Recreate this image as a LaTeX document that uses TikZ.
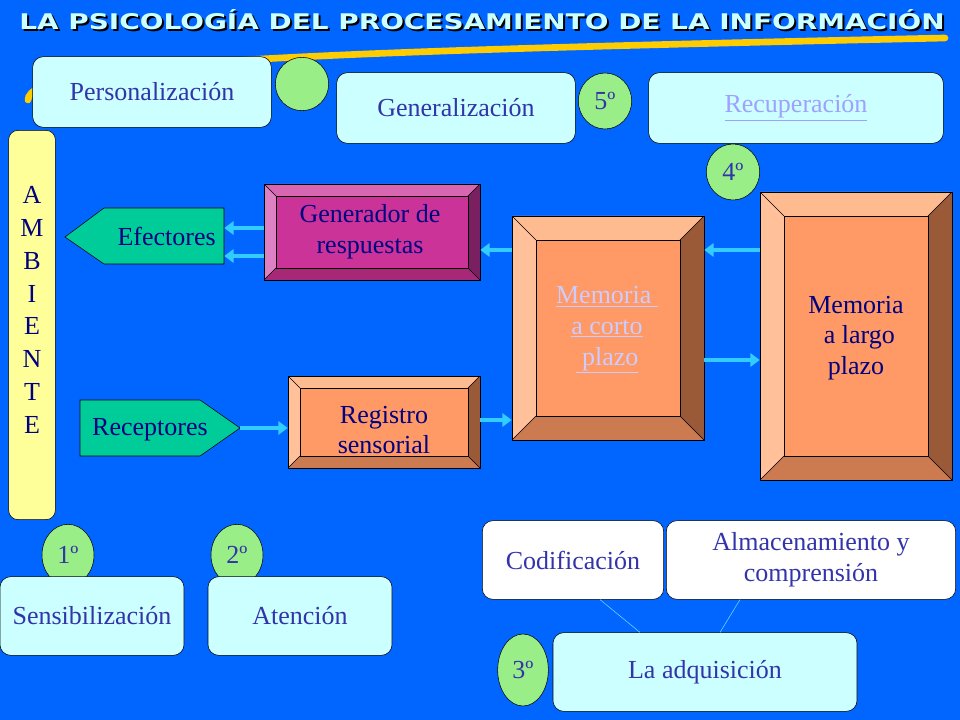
\documentclass[tikz,border=0pt]{standalone}
\usepackage{fontspec}
\setmainfont{Liberation Serif}
\newfontfamily\titlefont{DejaVu Sans}
\usetikzlibrary{arrows.meta,calc,shapes.geometric}
\definecolor{bg}{HTML}{0066FF}
\definecolor{lbox}{HTML}{CCFFFF}
\definecolor{ltxt}{HTML}{3333AA}
\definecolor{dtxt}{HTML}{000080}
\definecolor{grn}{HTML}{99EE88}
\definecolor{arr}{HTML}{33CCFF}
\definecolor{swoosh}{HTML}{FFCC00}
\definecolor{amb}{HTML}{FFFF99}
\definecolor{teal}{HTML}{00CC99}
\definecolor{link}{HTML}{A0A0FF}
\definecolor{mcp}{HTML}{CCCCFF}
\definecolor{gent}{HTML}{D966B0}\definecolor{genl}{HTML}{DD80C4}\definecolor{genb}{HTML}{A82878}\definecolor{genr}{HTML}{7A2060}\definecolor{genf}{HTML}{CC3399}
\definecolor{ort}{HTML}{FFBB90}\definecolor{orl}{HTML}{FFC09A}\definecolor{orb}{HTML}{CC7A50}\definecolor{orr}{HTML}{9A5A38}\definecolor{orf}{HTML}{FF9966}
\newcommand\bevbox[7]{%
 \fill[#7t] (#2,#3)--(#4,#3)--({#4-#6},{#3+#6})--({#2+#6},{#3+#6})--cycle;
 \fill[#7l] (#2,#3)--({#2+#6},{#3+#6})--({#2+#6},{#5-#6})--(#2,#5)--cycle;
 \fill[#7b] (#2,#5)--({#2+#6},{#5-#6})--({#4-#6},{#5-#6})--(#4,#5)--cycle;
 \fill[#7r] (#4,#3)--(#4,#5)--({#4-#6},{#5-#6})--({#4-#6},{#3+#6})--cycle;
 \draw[thin] (#2,#3)--({#2+#6},{#3+#6}) (#4,#3)--({#4-#6},{#3+#6}) (#2,#5)--({#2+#6},{#5-#6}) (#4,#5)--({#4-#6},{#5-#6});
 \node[draw,fill=#7f,inner sep=0,minimum width={(#4-#2-2*#6)*0.75pt},minimum height={(#5-#3-2*#6)*0.75pt}] (#1in) at ({(#2+#4)/2},{(#3+#5)/2}) {};
 \node[draw,inner sep=0,minimum width={(#4-#2)*0.75pt},minimum height={(#5-#3)*0.75pt}] (#1) at ({(#2+#4)/2},{(#3+#5)/2}) {};
}
\tikzset{
 fnt/.style={font=\fontsize{19.5pt}{23pt}\selectfont},
 lb/.style={draw,rounded corners=8pt,fill=lbox,text=ltxt,inner sep=0,align=center,fnt},
 wb/.style={lb,fill=white},
 circ/.style={draw,fill=grn,ellipse,text=ltxt,inner sep=0,fnt},
 ar/.style={draw=arr,line width=3pt,-{Triangle[width=10pt,length=7pt]}},
 bt/.style={text=dtxt,align=center,fnt},
}
\begin{document}
\begin{tikzpicture}[x=0.75pt,y=-0.75pt]
\useasboundingbox (0,0) rectangle (960,720);
\fill[bg] (0,0) rectangle (960,720);
% title
\draw[swoosh,line width=5pt,line cap=round] (28,100) .. controls (28,62) and (300,52) .. (945,38);
\node[text=black] (titsh) at (484,22) {\resizebox{694pt}{15pt}{\titlefont\bfseries LA PSICOLOGÍA DEL PROCESAMIENTO DE LA INFORMACIÓN}};
\node[text=lbox] (tit) at (482,20) {\resizebox{694pt}{15pt}{\titlefont\bfseries LA PSICOLOGÍA DEL PROCESAMIENTO DE LA INFORMACIÓN}};
% top row
\node[lb,minimum width=179pt,minimum height=53pt] (pers) at (152,92) {Personalización};
\node[circ,minimum width=40pt,minimum height=40pt] (c0) at (302,84) {};
\node[lb,minimum width=179pt,minimum height=53pt] (gen2) at (456,108) {Generalización};
\node[circ,minimum width=40pt,minimum height=42pt] (c5) at (605,101) {5º};
\node[lb,minimum width=221pt,minimum height=53pt,text=link] (recu) at (796,108) {\underline{Recuperación}};
\node[circ,minimum width=40pt,minimum height=42pt] (c4) at (733,172) {4º};
% ambiente
\node[draw,rounded corners=7pt,fill=amb,minimum width=35pt,minimum height=292pt,inner sep=0] (amb) at (32,325) {};
\node[text=dtxt,align=center,font=\fontsize{19.5pt}{24.6pt}\selectfont] (ambt) at (32,310) {A\\M\\B\\I\\E\\N\\T\\E};
% efectores
\draw[fill=teal] (65,237)--(104,208)--(224,208)--(224,264)--(104,264)--cycle;
\node[bt,minimum width=90pt,minimum height=42pt,inner sep=0] (efe) at (164,236) {\hspace{4pt}Efectores};
% receptores
\draw[fill=teal] (80,400)--(200,400)--(240,428)--(200,456)--(80,456)--cycle;
\node[bt,inner sep=0,minimum width=120pt,minimum height=42pt] (rec) at (160,428) {};
\node[bt] (rect) at (150,430) {Receptores};
\coordinate (rectip) at (240,428);
% bevel boxes
\bevbox{gen}{264}{184}{480}{280}{12}{gen}
\node[bt] (gent) at (370,232) {Generador de\\respuestas};
\bevbox{reg}{288}{376}{480}{468}{12}{or}
\node[bt] (regt) at (384,430) {Registro\\sensorial};
\bevbox{mcp}{512}{216}{704}{440}{24}{or}
\node[bt,text=mcp] (mcpt) at (607,330) {\underline{Memoria\ }\\\underline{a corto}\\\underline{\ plazo}};
\bevbox{mlp}{760}{192}{952}{480}{24}{or}
\node[bt] (mlpt) at (856,338) {Memoria\\\ a largo\\plazo\ };
% arrows
\draw[ar] ($(gen.west)+(0,-4)$) -- ($(efe.east)+(0,-8)$);
\draw[ar] ($(gen.west)+(0,24)$) -- ($(efe.east)+(0,20)$);
\draw[ar] (rectip) -- (reg.west |- rectip);
\draw[ar] ($(reg.east)+(0,-2)$) -- (mcp.west |- {$(reg.east)+(0,-2)$});
\draw[ar] (mcp.west |- 0,250) -- (gen.east |- 0,250);
\draw[ar] (mlp.west |- 0,250) -- (mcp.east |- 0,250);
\draw[ar] (mcp.east |- 0,360) -- (mlp.west |- 0,360);
% bottom
\node[circ,minimum width=39pt,minimum height=46pt] (c1) at (68,555) {1º};
\node[lb,minimum width=138pt,minimum height=59pt] (sens) at (92,616) {Sensibilización};
\node[circ,minimum width=39pt,minimum height=46pt] (c2) at (237,555) {2º};
\node[lb,minimum width=138pt,minimum height=59pt] (aten) at (300,616) {Atención};
\node[wb,minimum width=136pt,minimum height=59pt] (codi) at (573,560) {Codificación};
\node[wb,minimum width=217pt,minimum height=59pt] (alm) at (811,560) {Almacenamiento y\\comprensión};
\node[lb,minimum width=228pt,minimum height=59pt] (adq) at (705,672) {La adquisición};
\node[circ,minimum width=38pt,minimum height=54pt] (c3) at (523,670) {3º};
\draw[arr!70!white,thin] ($(codi.south)+(27,0)$) -- ($(adq.north)+(-65,0)$);
\draw[arr!70!white,thin] ($(alm.south)+(-71,0)$) -- ($(adq.north)+(15,0)$);
\end{tikzpicture}
\end{document}
